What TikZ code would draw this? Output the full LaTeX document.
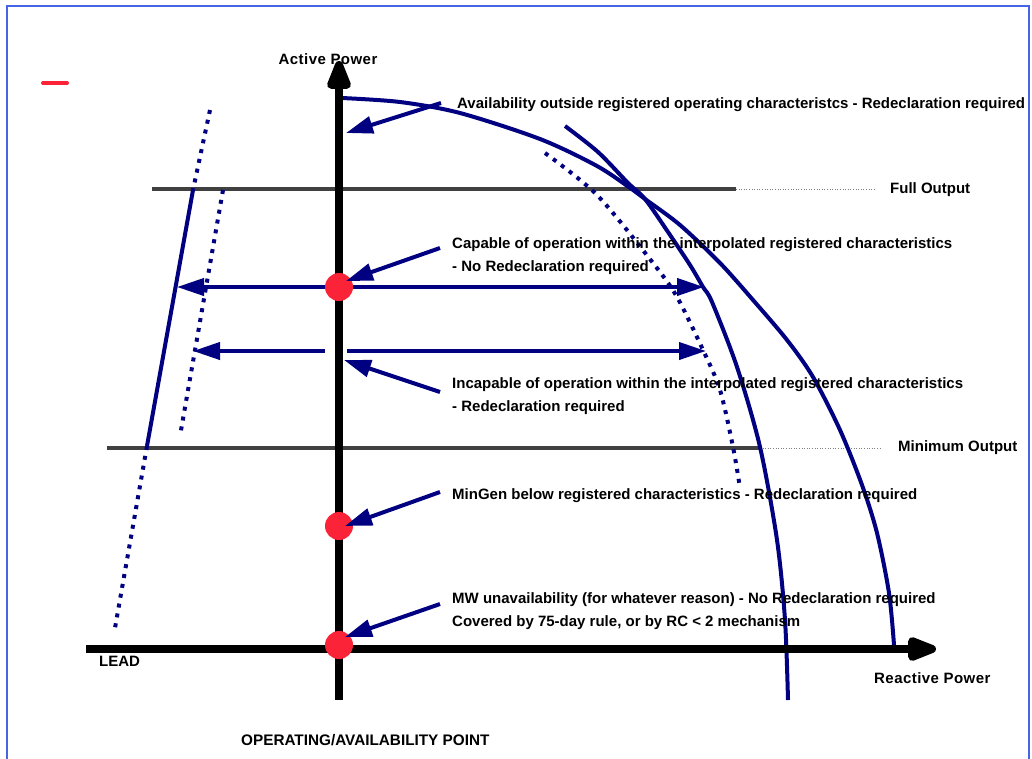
\documentclass[tikz,border=0pt]{standalone}
\usepackage{fontspec}
\setmainfont{Liberation Sans}
\usetikzlibrary{arrows.meta}
\definecolor{navy}{RGB}{0,0,128}
\definecolor{dotred}{RGB}{250,35,55}
\definecolor{framebl}{RGB}{70,100,230}
\definecolor{lvl}{RGB}{64,64,64}
\newfontfamily\axfont[LetterSpace=3]{Liberation Sans}
\begin{document}
\begin{tikzpicture}[x=1pt,y=-1pt,
  axis/.style={line width=8pt,black},
  axishead/.style={-{Triangle[length=36pt,width=25pt,round]}},
  navyline/.style={line width=4pt,navy},
  navyhead/.style={-{Triangle[length=27pt,width=17pt]}},
  dotline/.style={line width=4pt,navy,dash pattern=on 4pt off 6pt},
  level/.style={line width=4pt,lvl},
  levelthin/.style={line width=0.6pt,gray,dotted},
  reddot/.style={circle,fill=dotred,minimum size=28pt,inner sep=0pt},
  lbl/.style={anchor=base west,inner sep=0pt,font=\bfseries\fontsize{15}{17}\selectfont},
  axlbl/.style={inner sep=0pt,font=\axfont\bfseries\fontsize{15}{17}\selectfont},
  plain/.style={anchor=base west,inner sep=0pt,font=\bfseries\fontsize{15}{17}\selectfont}]
\useasboundingbox (0,0) rectangle (1032,758);
\fill[white] (0,0) rectangle (1032,758);
\draw[framebl,line width=1.2pt] (7,770) -- (7,6) -- (1029,6) -- (1029,770);
% red dash
\draw[dotred,line width=4pt,line cap=round] (43,83) -- (67,83);
% level lines
\coordinate (fo1) at (152,189); \coordinate (fo2) at (736,189); \coordinate (fo3) at (876,189);
\coordinate (mo1) at (107,448); \coordinate (mo2) at (760,448); \coordinate (mo3) at (882,448);
\draw[level] (fo1) -- (fo2);
\draw[levelthin] (fo2) -- (fo3);
\draw[level] (mo1) -- (mo2);
\draw[levelthin] (mo2) -- (mo3);
\node[lbl] (fulloutput) at (890,193) {Full Output};
\node[lbl] (minoutput) at (898,451) {Minimum Output};
% left lines
\coordinate (la) at (210,110); \coordinate (lb) at (193,190);
\coordinate (lc) at (147,446); \coordinate (ld) at (115,628);
\draw[dotline] (la) -- (lb);
\draw[navyline] (lb) -- (lc);
\draw[dotline] (lc) -- (ld);
\coordinate (le) at (223,190); \coordinate (lf) at (180,436);
\draw[dotline] (le) -- (lf);
% right curves
\draw[navyline] plot[smooth,tension=0.5] coordinates {(342,98) (400,102) (460,113) (540,139) (597,166) (633,190) (645,199) (680,225) (720,263) (753,300) (787,340) (813,377) (840,430) (862,485) (877,533) (889,593) (894,645)};
\draw[navyline] plot[smooth,tension=0.5] coordinates {(565,126) (598,152) (628,183) (645,199) (668,232) (690,265) (703,287) (712,302) (737,367) (760,447) (777,540) (785,620) (788,700)};
\draw[dotline] plot[smooth,tension=0.5] coordinates {(545,153) (597,195) (653,263) (677,297) (703,350) (720,390) (733,447) (740,488)};
% axes
\coordinate (vbot) at (339,700); \coordinate (vtop) at (339,61);
\coordinate (hleft) at (86,649); \coordinate (hright) at (936,649);
\draw[axis,axishead] (vbot) -- (vtop);
\draw[axis,axishead] (hleft) -- (hright);
\node[axlbl,anchor=base] (activepower) at (328,64) {Active Power};
\node[axlbl,anchor=base west] (reactive) at (874,683) {Reactive Power};
\node[plain] (lead) at (99,666) {LEAD};
\node[plain] (opavail) at (241,745) {\fontsize{15.3}{17}\selectfont OPERATING/AVAILABILITY POINT};
% red dots
\node[reddot] (d1) at (339,287) {};
\node[reddot] (d2) at (339,526) {};
\node[reddot] (d3) at (339,645) {};
% horizontal arrows
\coordinate (c1l) at (177,287); \coordinate (c1r) at (704,287);
\draw[navyline,navyhead] (d1.west) -- (c1l);
\draw[navyline,navyhead] (d1.east) -- (c1r);
\coordinate (i1a) at (325,351); \coordinate (i1l) at (193,351);
\coordinate (i1b) at (347,351); \coordinate (i1r) at (706,351);
\draw[navyline,navyhead] (i1a) -- (i1l);
\draw[navyline,navyhead] (i1b) -- (i1r);
% texts
\node[lbl] (t1) at (457,108) {Availability outside registered operating characteristcs - Redeclaration required};
\node[lbl] (t2a) at (452,248) {Capable of operation within the interpolated registered characteristics};
\node[lbl] (t2b) at (452,271) {- No Redeclaration required};
\node[lbl] (t3a) at (452,388) {Incapable of operation within the interpolated registered characteristics};
\node[lbl] (t3b) at (452,411) {- Redeclaration required};
\node[lbl] (t4) at (452,499) {MinGen below registered characteristics - Redeclaration required};
\node[lbl] (t5a) at (452,603) {MW unavailability (for whatever reason) - No Redeclaration required};
\node[lbl] (t5b) at (452,626) {Covered by 75-day rule, or by RC < 2 mechanism};
% pointer arrows
\coordinate (p1s) at (441,103); \coordinate (p1e) at (346,133);
\coordinate (p2s) at (440,248); \coordinate (p2e) at (346,281);
\coordinate (p3s) at (440,392); \coordinate (p3e) at (344,360);
\coordinate (p4s) at (440,492); \coordinate (p4e) at (345,526);
\coordinate (p5s) at (440,604); \coordinate (p5e) at (345,637);
\draw[navyline,navyhead] (p1s) -- (p1e);
\draw[navyline,navyhead] (p2s) -- (p2e);
\draw[navyline,navyhead] (p3s) -- (p3e);
\draw[navyline,navyhead] (p4s) -- (p4e);
\draw[navyline,navyhead] (p5s) -- (p5e);
\end{tikzpicture}
\end{document}
